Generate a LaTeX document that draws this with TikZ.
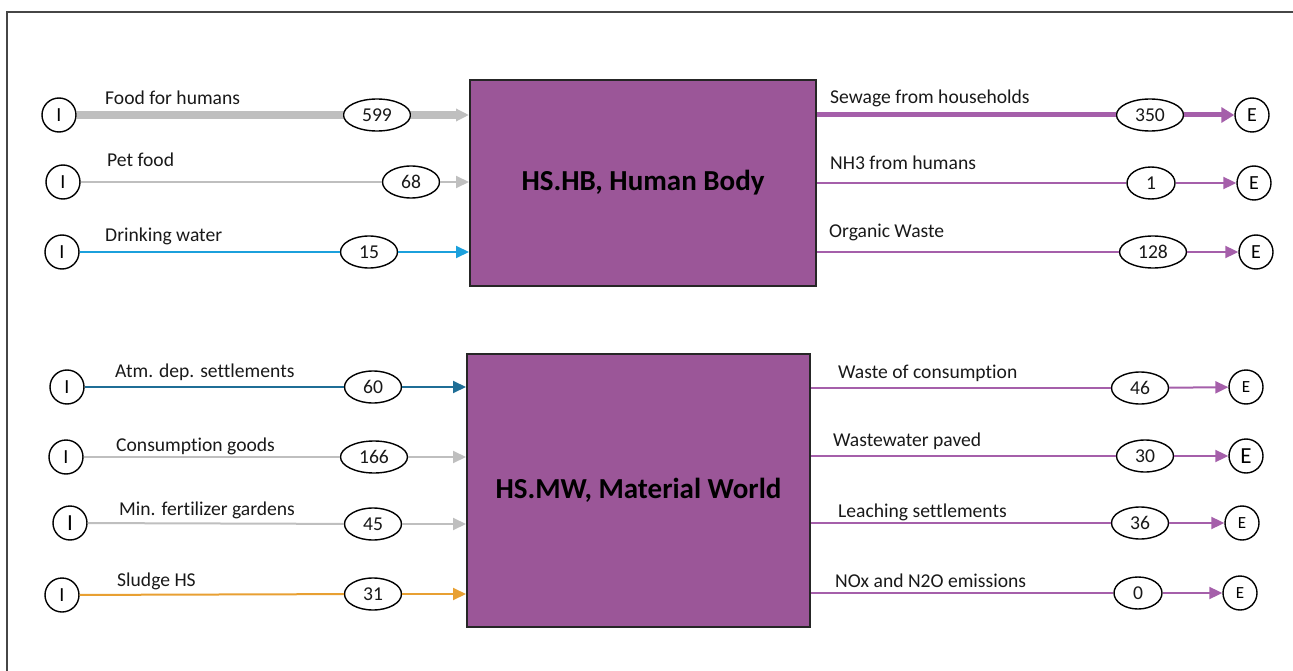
\documentclass[tikz,border=0pt]{standalone}
\usepackage{fontspec}
\setmainfont{Carlito}[Ligatures={NoCommon}]
\usetikzlibrary{shapes.geometric,arrows.meta}
\definecolor{flowgray}{RGB}{191,191,191}
\definecolor{flowblue}{RGB}{27,160,220}
\definecolor{flowteal}{RGB}{31,110,150}
\definecolor{floworange}{RGB}{232,160,50}
\definecolor{flowpurple}{RGB}{165,95,170}
\definecolor{boxpurple}{RGB}{155,86,152}
\definecolor{framegray}{RGB}{70,70,70}
\tikzset{
  lbl/.style={anchor=base west, inner sep=0pt, font=\fontsize{19.6}{22}\selectfont, text=black!90},
  val/.style={ellipse, draw=black, line width=1.4pt, fill=white, inner sep=0pt, minimum height=32pt, font=\fontsize{19.6}{22}\selectfont, text=black!90},
  term/.style={circle, draw=black, line width=1.4pt, fill=white, inner sep=0pt, minimum size=34pt, font=\fontsize{20}{22}\selectfont},
  procbox/.style={draw=black!85, line width=2pt, fill=boxpurple, inner sep=0pt, font=\fontsize{29}{34}\selectfont\bfseries},
  tip/.style={-{Triangle[length=13pt,width=12pt]}},
  bigtip/.style={-{Triangle[length=13pt,width=15pt]}},
  thin/.style={line width=2pt},
}
\begin{document}
\begin{tikzpicture}[x=1pt,y=-1pt]
\useasboundingbox (0,0) rectangle (1293,671);
\draw[framegray, line width=1.2pt] (7,671) -- (7,12) -- (1293,12);

% process boxes
\node[procbox, minimum width=346pt, minimum height=206pt] (hb) at (643,183) {HS.HB, Human Body};
\node[procbox, minimum width=343pt, minimum height=273pt] (mw) at (638.5,490.5) {HS.MW, Material World};

% ---- upper left inputs
\node[term] (i1) at (59,115) {I};
\node[term] (i2) at (63,182) {I};
\node[term] (i3) at (62,252) {I};
\node[val, minimum width=67pt] (v1) at (377,115) {599};
\node[val, minimum width=57pt] (v2) at (411,182) {68};
\node[val, minimum width=57pt] (v3) at (369,252) {15};
\node[lbl] (l1) at (105,105) {Food for humans};
\node[lbl] (l2) at (107,167) {Pet food};
\node[lbl] (l3) at (105,242) {Drinking water};

% ---- upper right outputs
\node[val, minimum width=67pt] (w1) at (1150,115) {350};
\node[val, minimum width=48pt] (w2) at (1151,183) {1};
\node[val, minimum width=67pt] (w3) at (1153,252) {128};
\node[term] (e1) at (1252,115) {E};
\node[term] (e2) at (1254,183) {E};
\node[term] (e3) at (1256,252) {E};
\node[lbl] (r1) at (830,104) {Sewage from households};
\node[lbl] (r2) at (830,170) {NH3 from humans};
\node[lbl] (r3) at (829,237) {Organic Waste};

% ---- lower left inputs
\node[term] (j1) at (67,387) {I};
\node[term] (j2) at (66,457) {I};
\node[term, font=\fontsize{23}{24}\selectfont] (j3) at (70,523) {I};
\node[term] (j4) at (62,595) {I};
\node[val, minimum width=57pt] (u1) at (373,387) {60};
\node[val, minimum width=67pt] (u2) at (374,457) {166};
\node[val, minimum width=57pt] (u3) at (373,524) {45};
\node[val, minimum width=57pt] (u4) at (373,594) {31};
\node[lbl] (m1) at (115,377) {Atm. dep. settlements};
\node[lbl] (m2) at (116,451) {Consumpt\kern0pt ion goods};
\node[lbl] (m3) at (119,515) {Min. fertilizer gardens};
\node[lbl] (m4) at (117,586) {Sludge HS};

% ---- lower right outputs
\node[val, minimum width=57pt] (x1) at (1140,388) {46};
\node[val, minimum width=57pt] (x2) at (1145,456) {30};
\node[val, minimum width=57pt] (x3) at (1140,523) {36};
\node[val, minimum width=48pt] (x4) at (1138,593) {0};
\node[term, font=\fontsize{17}{20}\selectfont] (f1) at (1246,387) {E};
\node[term, font=\fontsize{23}{24}\selectfont] (f2) at (1246,456) {E};
\node[term, font=\fontsize{17}{20}\selectfont] (f3) at (1242,523) {E};
\node[term, font=\fontsize{17}{20}\selectfont] (f4) at (1240,593) {E};
\node[lbl] (n1) at (838,378) {Waste of consumpt\kern0pt ion};
\node[lbl] (n2) at (833,446) {Wastewater paved};
\node[lbl] (n3) at (838,517) {Leaching settlements};
\node[lbl] (n4) at (835,587) {NOx and N2O emissions};

% ---- connectors
\draw[flowgray, line width=8pt] (i1) -- (v1);
\draw[flowgray, line width=8pt, tip] (v1) -- (hb.west |- v1);
\draw[flowgray, thin] (i2) -- (v2);
\draw[flowgray, thin, tip] (v2) -- (hb.west |- v2);
\draw[flowblue, thin] (i3) -- (v3);
\draw[flowblue, thin, tip] (v3) -- (hb.west |- v3);

\draw[flowpurple, line width=5pt] (hb.east |- w1) -- (w1);
\draw[flowpurple, line width=5pt, bigtip] (w1) -- (e1);
\draw[flowpurple, thin] (hb.east |- w2) -- (w2);
\draw[flowpurple, thin, tip] (w2) -- (e2);
\draw[flowpurple, thin] (hb.east |- w3) -- (w3);
\draw[flowpurple, thin, tip] (w3) -- (e3);

\draw[flowteal, thin] (j1) -- (u1);
\draw[flowteal, thin, tip] (u1) -- (mw.west |- u1);
\draw[flowgray, thin] (j2) -- (u2);
\draw[flowgray, thin, tip] (u2) -- (mw.west |- u2);
\draw[flowgray, thin] (j3) -- (u3);
\draw[flowgray, thin, tip] (u3) -- (mw.west |- u3);
\draw[floworange, thin] (j4) -- (u4);
\draw[floworange, thin, tip] (u4) -- (mw.west |- u4);

\draw[flowpurple, thin] (mw.east |- x1) -- (x1);
\draw[flowpurple, thin, tip] (x1) -- (f1);
\draw[flowpurple, thin] (mw.east |- x2) -- (x2);
\draw[flowpurple, thin, tip] (x2) -- (f2);
\draw[flowpurple, thin] (mw.east |- x3) -- (x3);
\draw[flowpurple, thin, tip] (x3) -- (f3);
\draw[flowpurple, thin] (mw.east |- x4) -- (x4);
\draw[flowpurple, thin, tip] (x4) -- (f4);
\end{tikzpicture}
\end{document}
